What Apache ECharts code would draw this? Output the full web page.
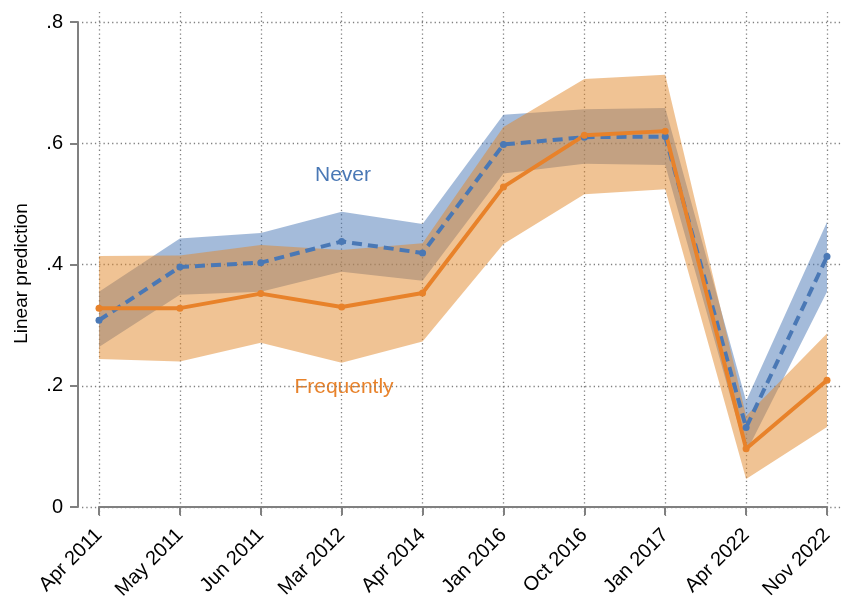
<!DOCTYPE html>
<html>
<head>
<meta charset="utf-8">
<script src="https://cdn.jsdelivr.net/npm/echarts@6/dist/echarts.min.js"></script>
<style>
  html, body { margin: 0; padding: 0; background: #fff; }
  #chart { width: 842px; height: 608px; }
</style>
</head>
<body>
<div id="chart"></div>
<script>
// survey waves
var waves = ['Apr 2011', 'May 2011', 'Jun 2011', 'Mar 2012', 'Apr 2014',
  'Jan 2016', 'Oct 2016', 'Jan 2017', 'Apr 2022', 'Nov 2022'];

// "Never" group: prediction and 95% band
var neverMean = [0.308, 0.396, 0.403, 0.438, 0.419, 0.598, 0.610, 0.611, 0.131, 0.413];
var neverLow  = [0.264, 0.350, 0.355, 0.388, 0.373, 0.550, 0.566, 0.564, 0.090, 0.355];
var neverHigh = [0.355, 0.443, 0.452, 0.487, 0.467, 0.647, 0.656, 0.658, 0.175, 0.470];

// "Frequently" group
var freqMean = [0.328, 0.328, 0.352, 0.330, 0.353, 0.528, 0.613, 0.620, 0.096, 0.209];
var freqLow  = [0.244, 0.240, 0.271, 0.238, 0.273, 0.434, 0.516, 0.524, 0.046, 0.132];
var freqHigh = [0.414, 0.415, 0.432, 0.424, 0.435, 0.627, 0.706, 0.713, 0.150, 0.286];

var yTicks = [0, 0.2, 0.4, 0.6, 0.8];

var blue = '#4a78b5';
var orange = '#e8822a';
var FONT = 'Liberation Sans';

function width(lo, hi) {
  var out = [];
  for (var i = 0; i < lo.length; i++) out.push(+(hi[i] - lo[i]).toFixed(4));
  return out;
}

function tickLabel(v) {
  if (v === 0) return '0';
  return v.toFixed(1).replace(/^0/, '');
}

var gridLine = { show: true, lineStyle: { color: '#808080', width: 1.3, type: [1.3, 3] } };
var axisGray = { color: '#808080', width: 2 };

var chart = echarts.init(document.getElementById('chart'), null, { renderer: 'canvas' });

var option = {
  backgroundColor: '#fff',
  animation: false,
  textStyle: { fontFamily: FONT },
  grid: [
    { left: 99, top: 22, width: 728, height: 485, outerBoundsMode: 'none' },
    { left: 82, top: 22, width: 760, height: 485, outerBoundsMode: 'none' },
    { left: 99, top: 12, width: 728, height: 504, outerBoundsMode: 'none' }
  ],
  xAxis: [
    {
      gridIndex: 0,
      type: 'category',
      data: waves,
      boundaryGap: false,
      offset: 12,
      axisLine: { lineStyle: axisGray },
      axisTick: { length: 8, lineStyle: axisGray, interval: 0 },
      axisLabel: { rotate: 45, interval: 0, fontSize: 20, color: '#000', margin: 13, fontFamily: FONT },
      splitLine: { show: false }
    },
    { gridIndex: 1, type: 'value', show: false, min: 0, max: 1 },
    {
      gridIndex: 2,
      type: 'category',
      data: waves,
      boundaryGap: false,
      axisLine: { show: false },
      axisTick: { show: false },
      axisLabel: { show: false, interval: 0 },
      splitLine: Object.assign({ interval: 0 }, gridLine)
    }
  ],
  yAxis: [
    {
      gridIndex: 0,
      type: 'value',
      min: 0,
      max: 0.8,
      interval: 0.2,
      offset: 21,
      name: 'Linear prediction',
      nameLocation: 'middle',
      nameGap: 47,
      nameTextStyle: { fontSize: 19, color: '#000', fontFamily: FONT, padding: [0, 18, 0, 0] },
      axisLine: { show: true, lineStyle: axisGray },
      axisTick: { show: true, length: 8, lineStyle: axisGray },
      axisLabel: { fontSize: 20, color: '#000', margin: 15, fontFamily: FONT, formatter: tickLabel },
      splitLine: { show: false }
    },
    {
      gridIndex: 1,
      type: 'value',
      min: yTicks[0],
      max: yTicks[yTicks.length - 1],
      interval: 0.2,
      axisLine: { show: false },
      axisTick: { show: false },
      axisLabel: { show: false },
      splitLine: gridLine
    },
    { gridIndex: 2, type: 'value', show: false, min: 0, max: 1 }
  ],
  series: [
    {
      name: 'neverBase', type: 'line', stack: 'never', data: neverLow,
      symbol: 'none', lineStyle: { width: 0 }, silent: true
    },
    {
      name: 'neverBand', type: 'line', stack: 'never', data: width(neverLow, neverHigh),
      symbol: 'none', lineStyle: { width: 0 }, silent: true,
      areaStyle: { color: blue, opacity: 0.5 }
    },
    {
      name: 'freqBase', type: 'line', stack: 'freq', data: freqLow,
      symbol: 'none', lineStyle: { width: 0 }, silent: true
    },
    {
      name: 'freqBand', type: 'line', stack: 'freq', data: width(freqLow, freqHigh),
      symbol: 'none', lineStyle: { width: 0 }, silent: true,
      areaStyle: { color: '#e18729', opacity: 0.5 }
    },
    {
      name: 'Never', type: 'line', data: neverMean,
      symbol: 'circle', symbolSize: 7, showSymbol: true,
      itemStyle: { color: blue },
      lineStyle: { color: blue, width: 4, type: [10, 6] }
    },
    {
      name: 'Frequently', type: 'line', data: freqMean,
      symbol: 'circle', symbolSize: 7, showSymbol: true,
      itemStyle: { color: orange },
      lineStyle: { color: orange, width: 4 }
    }
  ],
  graphic: [
    {
      type: 'text', x: 343, y: 175,
      style: { text: 'Never', font: '21px "Liberation Sans"', fill: blue, textAlign: 'center', textVerticalAlign: 'middle' }
    },
    {
      type: 'text', x: 344, y: 387,
      style: { text: 'Frequently', font: '21px "Liberation Sans"', fill: orange, textAlign: 'center', textVerticalAlign: 'middle' }
    }
  ]
};

chart.setOption(option);
</script>
</body>
</html>
